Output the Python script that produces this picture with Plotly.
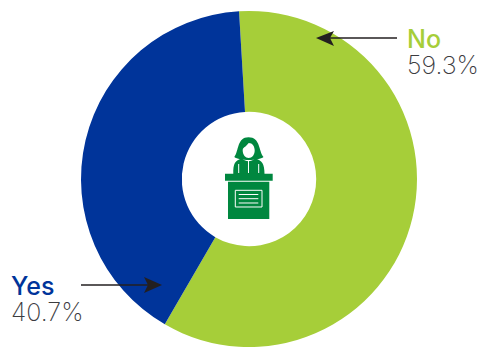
import plotly.graph_objects as go

labels = ["No", "Yes"]
values = [59.3, 40.7]
colors = ["#A6CE39", "#00349A"]
W, H = 481, 347
ICON = "#00873F"
INK = "#231F20"


def px(x):
    return x / W


def py(y):
    return 1 - y / H


def path(points, close=True):
    d = "M" + " L".join(f"{px(x):.5f},{py(y):.5f}" for x, y in points)
    return d + (" Z" if close else "")


def curve(start, segments, close=True):
    # Cubic segments given in pixel positions, converted to paper fractions
    d = f"M{px(start[0]):.5f},{py(start[1]):.5f}"
    for a, b, c in segments:
        d += f" C{px(a[0]):.5f},{py(a[1]):.5f} {px(b[0]):.5f},{py(b[1]):.5f} {px(c[0]):.5f},{py(c[1]):.5f}"
    return d + (" Z" if close else "")


def filled(d, color):
    return dict(type="path", xref="paper", yref="paper", path=d,
                fillcolor=color, line=dict(width=0))


def stroke(d, color, width):
    return dict(type="path", xref="paper", yref="paper", path=d,
                line=dict(color=color, width=width))


fig = go.Figure(go.Pie(
    labels=labels,
    values=values,
    hole=0.4,
    sort=False,
    direction="clockwise",
    rotation=-3.4,
    marker=dict(colors=colors, line=dict(width=0)),
    textinfo="none",
    hoverinfo="label+percent",
    showlegend=False,
    domain=dict(x=[81 / W, 417 / W], y=[0, 1 - 11 / H]),
))

shapes = [
    # Pointer arrows beside the ring
    stroke(path([(397, 38), (330, 38)], close=False), INK, 1.6),
    filled(path([(316, 38), (334, 31), (330, 38), (334, 46)]), INK),
    stroke(path([(81, 285), (148, 285)], close=False), INK, 1.6),
    filled(path([(162, 285), (144, 277), (148, 285), (144, 293)]), INK),
    # Speaker: hair, shoulders, face
    filled(curve((234.3, 157), [
        ((239, 151), (237, 137.3), (248.5, 137.3)),
        ((260.5, 137.3), (258.5, 151), (263.5, 157)),
        ((259, 161), (239, 161), (234.3, 157)),
    ]), ICON),
    filled(curve((233.3, 174), [
        ((233, 164), (235, 160), (242, 158.5)),
        ((246, 162), (251, 162), (255, 158.5)),
        ((262, 160), (264.5, 164), (264.5, 174)),
    ]), ICON),
    filled(curve((248.7, 143), [
        ((252.5, 143), (254.7, 146.5), (254.7, 150.5)),
        ((254.7, 155), (252, 158), (248.7, 158)),
        ((245.5, 158), (242.7, 155), (242.7, 150.5)),
        ((242.7, 147), (245, 148), (248.7, 143)),
    ]), "#FFFFFF"),
    stroke(path([(238.7, 164), (238.7, 173)], close=False), "#FFFFFF", 1),
    stroke(path([(258.7, 164), (258.7, 173)], close=False), "#FFFFFF", 1),
    stroke(path([(248.5, 161), (248.5, 173)], close=False), "#FFFFFF", 1),
    # Lectern
    filled(path([(225, 173.7), (272.7, 173.7), (272.7, 180.7), (225, 180.7)]), ICON),
    filled(path([(228, 181.7), (269.3, 181.7), (269.3, 219), (228, 219)]), ICON),
    stroke(path([(235.3, 190.3), (262, 190.3), (262, 207), (235.3, 207)]), "#FFFFFF", 1),
    stroke(path([(238.7, 194.5), (258.3, 194.5)], close=False), "#FFFFFF", 1),
    stroke(path([(238.7, 198.7), (258.3, 198.7)], close=False), "#FFFFFF", 1),
    stroke(path([(238.7, 203), (258.3, 203)], close=False), "#FFFFFF", 1),
]

TEXT_FONT = "Inter, Lato, sans-serif"


def label(x, y, text, color, weight, size=25):
    return dict(xref="paper", yref="paper", x=px(x), y=py(y), text=text,
                showarrow=False, xanchor="left", yanchor="middle",
                height=25, borderpad=0,
                font=dict(family=TEXT_FONT, size=size, color=color, weight=weight))


fig.update_layout(
    width=W,
    height=H,
    margin=dict(l=0, r=0, t=0, b=0),
    paper_bgcolor="#FFFFFF",
    shapes=shapes,
    annotations=[
        label(406, 38, labels[0], colors[0], 500),
        label(406, 64, f"{values[0]}%", "#3C3C3F", 200),
        label(9.5, 285, labels[1], colors[1], 500),
        label(9.5, 311, f"{values[1]}%", "#3C3C3F", 200),
    ],
)

fig.write_html("out.html", config=dict(displayModeBar=False))
